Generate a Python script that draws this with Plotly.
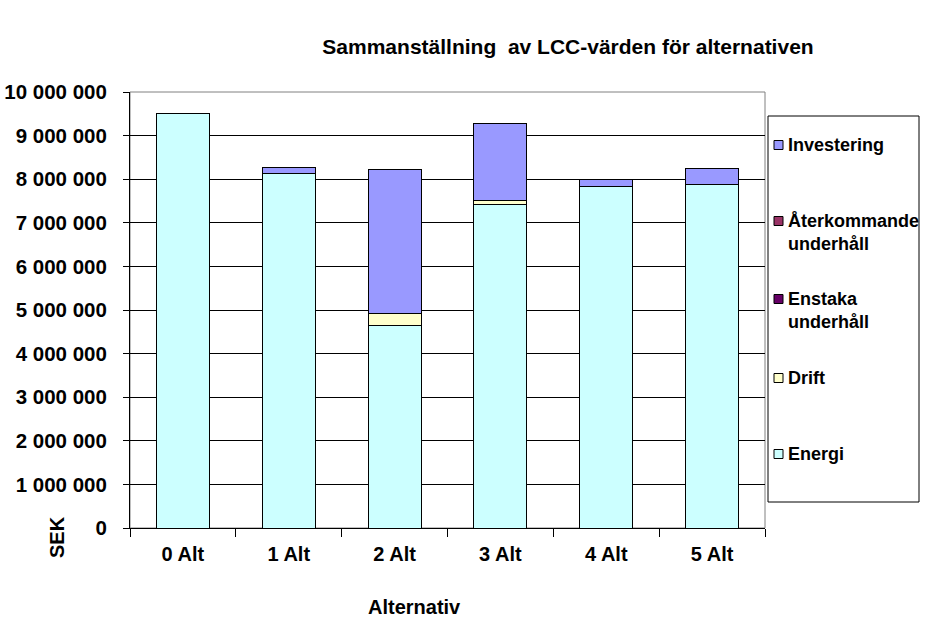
import plotly.graph_objects as go

categories = ["0 Alt", "1 Alt", "2 Alt", "3 Alt", "4 Alt", "5 Alt"]
energi = [9500000, 8130000, 4650000, 7420000, 7840000, 7880000]
drift = [0, 0, 270000, 100000, 0, 0]
enstaka = [0, 0, 0, 0, 0, 0]
aterkommande = [0, 0, 0, 0, 0, 0]
investering = [0, 140000, 3310000, 1750000, 160000, 370000]

series = [
    ("Energi", energi, "#CCFFFF"),
    ("Drift", drift, "#FFFFCC"),
    ("Enstaka<br>underhåll", enstaka, "#660066"),
    ("Återkommande<br>underhåll", aterkommande, "#993366"),
    ("Investering", investering, "#9999FF"),
]

FONT = "Liberation Sans, Arial, sans-serif"
W, H = 927, 630
ML, MR, MT, MB = 130, 162, 92, 102
PW, PH = W - ML - MR, H - MT - MB


def px(x):
    return (x - ML) / PW


def py(y):
    return (H - MB - y) / PH


fig = go.Figure()
for name, vals, col in series:
    fig.add_trace(go.Bar(
        x=categories, y=vals, name=name,
        marker=dict(color=col, line=dict(color="black", width=1)),
    ))

fig.update_layout(
    barmode="stack",
    bargap=0.5,
    width=W, height=H,
    margin=dict(l=ML, r=MR, t=MT, b=MB, autoexpand=False),
    paper_bgcolor="white", plot_bgcolor="white",
    separators=", ",
    font=dict(family=FONT, color="black", size=18),
    title=dict(text="Sammanställning  av LCC-värden för alternativen",
               xref="paper", x=px(568), xanchor="center",
               yref="container", y=1 - 47 / H, yanchor="middle",
               font=dict(size=21, family=FONT, weight="bold")),
    showlegend=False,
)

fig.update_yaxes(
    range=[0, 10000000], tickvals=[i * 1000000 for i in range(11)],
    tickformat=",d", showgrid=True, gridcolor="black", gridwidth=1,
    showline=True, linecolor="black", linewidth=1,
    ticks="outside", ticklen=6, tickcolor="black", ticklabelstandoff=12,
    tickfont=dict(size=20.5, family=FONT, weight="bold"), zeroline=False,
    automargin=False,
)
fig.update_xaxes(
    showline=True, linecolor="black", linewidth=1,
    ticks="outside", ticklen=8, tickcolor="black", tickson="boundaries",
    ticklabelstandoff=8,
    tickfont=dict(size=20, family=FONT, weight="bold"),
    automargin=False,
)

# gray border around plot area
fig.add_shape(type="rect", xref="paper", yref="paper", x0=0, y0=0, x1=1, y1=1,
              line=dict(color="#808080", width=1), layer="below")

fig.add_annotation(text="SEK", xref="paper", yref="paper",
                   x=px(57), y=py(537), xanchor="center", yanchor="middle",
                   textangle=-90, showarrow=False,
                   font=dict(size=20, family=FONT, weight="bold"))
fig.add_annotation(text="Alternativ", xref="paper", yref="paper",
                   x=px(414), y=py(607), xanchor="center", yanchor="middle",
                   showarrow=False,
                   font=dict(size=20, family=FONT, weight="bold"))

# legend (drawn as box, swatches and text)
fig.add_shape(type="rect", xref="paper", yref="paper",
              x0=px(768), x1=px(919), y0=py(502), y1=py(116),
              line=dict(color="black", width=1), fillcolor="white")
legend_y = {"Investering": 145, "Återkommande<br>underhåll": 221,
            "Enstaka<br>underhåll": 299, "Drift": 378, "Energi": 454}
for name, vals, col in series:
    cy = legend_y[name]
    fig.add_shape(type="rect", xref="paper", yref="paper",
                  x0=px(774), x1=px(783), y0=py(cy + 4.5), y1=py(cy - 4.5),
                  line=dict(color="black", width=1), fillcolor=col)
    two = "<br>" in name
    fig.add_annotation(text=name, xref="paper", yref="paper",
                       x=px(786), y=py(cy - 12 if two else cy),
                       xanchor="left", yanchor="top" if two else "middle",
                       align="left", showarrow=False,
                       font=dict(size=18, family=FONT, weight="bold"))

fig.write_html("out.html", config={"displayModeBar": False},
               post_script="document.body.style.margin='0';")
